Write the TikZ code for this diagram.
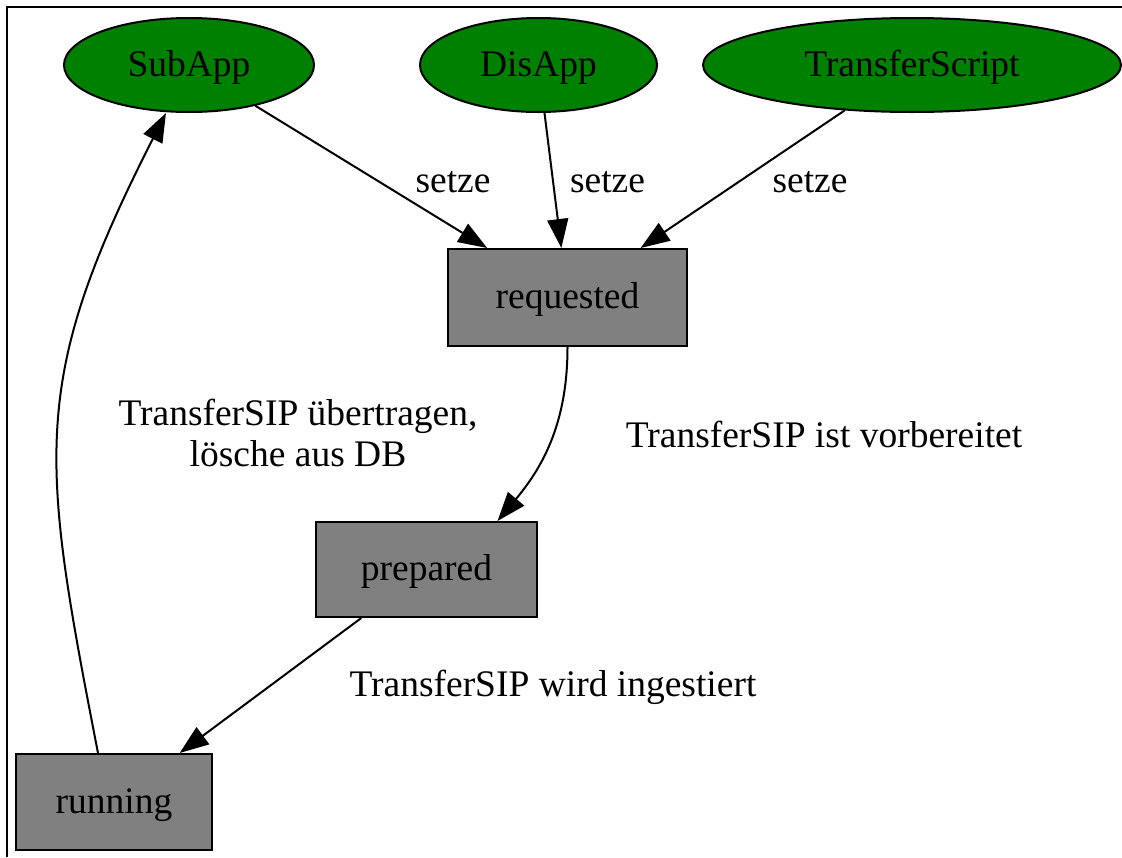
\documentclass[tikz,border=0pt]{standalone}
\usepackage{fontspec}
\setmainfont{Liberation Serif}
\usepackage{tikz}
\usetikzlibrary{arrows.meta,shapes.geometric,positioning}
\definecolor{appgreen}{HTML}{008000}
\definecolor{stategray}{HTML}{808080}
\newcommand{\dotfont}{\fontsize{37.5}{41}\selectfont}
\tikzset{
    app/.style={ellipse, draw=black, line width=2pt, fill=appgreen,
        inner sep=0pt, minimum height=94pt, font=\dotfont,
        text height=27pt, text depth=5pt},
    box/.style={rectangle, draw=black, line width=2pt, fill=stategray,
        inner sep=0pt, font=\dotfont, text height=27pt, text depth=5pt},
    lbl/.style={inner sep=0pt, font=\dotfont},
    arrow/.style={-{Triangle[length=29pt, width=21pt]}, line width=2pt}
}
\begin{document}
\begin{tikzpicture}[x=1pt, y=1pt]
    \useasboundingbox (0,0) rectangle (1122,-857);
    \draw[line width=1.3pt] (1122,-7) -| (7,-857);
    % sources
    \node[app, minimum width=250pt] (subapp) at (189,-65) {SubApp};
    \node[app, minimum width=237pt] (disapp) at (538.5,-65) {DisApp};
    \node[app, minimum width=418pt] (script) at (912,-65) {TransferScript};
    % states
    \node[box, minimum width=239pt, minimum height=97pt] (requested) at (567.5,-297.5) {requested};
    \node[box, minimum width=221pt, minimum height=95pt] (prepared) at (426.5,-569.5) {prepared};
    \node[box, minimum width=196pt, minimum height=96pt] (running) at (114,-802) {running};
    \path (subapp) edge [arrow] (requested)
        (disapp) edge [arrow] (requested)
        (script) edge [arrow] (requested)
        (requested.south) edge [arrow, out=-90, in=50] ([xshift=71pt]prepared.north)
        (prepared) edge [arrow] (running)
        ([xshift=-16pt]running.north) edge [arrow, out=101, in=-117, looseness=1.2] ([xshift=-23pt]subapp.south);
    % labels
    \node[lbl, anchor=base] (setzea) at (453,-192) {setze};
    \node[lbl, anchor=base] (setzeb) at (607.5,-192) {setze};
    \node[lbl, anchor=base] (setzec) at (810,-192) {setze};
    \node[lbl, anchor=base] (vorb) at (824,-447) {TransferSIP ist vorbereitet};
    \node[lbl, anchor=base] (ingest) at (553,-696) {TransferSIP wird ingestiert};
    \node[lbl, align=center] (uebertr) at (298,-433) {TransferSIP übertragen,\\lösche aus DB};
\end{tikzpicture}
\end{document}
